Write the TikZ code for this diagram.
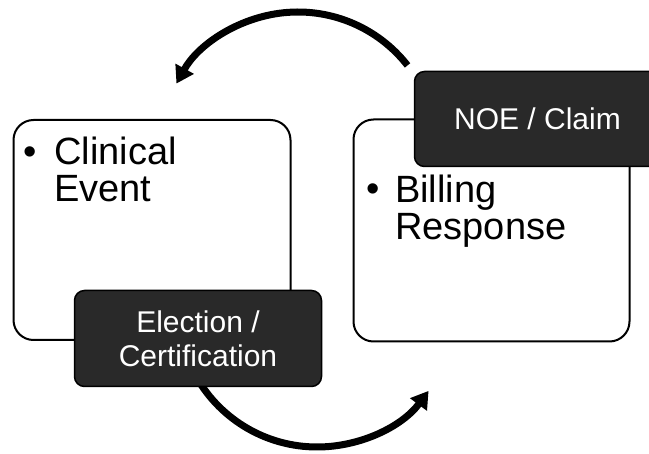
\documentclass[tikz,border=0pt]{standalone}
\usepackage{fontspec}
\setmainfont{Liberation Sans}
\usetikzlibrary{positioning}
\usetikzlibrary{calc}
\usetikzlibrary{arrows.meta}
\definecolor{tagfill}{HTML}{292929}

\begin{document}
\begin{tikzpicture}[
    x=1pt, y=-1pt,
    cardbox/.style={draw=black, line width=2pt, rounded corners=20pt, fill=white},
    tagbox/.style={draw=black, line width=1.5pt, rounded corners=10pt, fill=tagfill,
      text=white, align=center, font=\fontsize{30}{34}\selectfont},
    cardtext/.style={anchor=base west, align=left, inner sep=0pt,
      font=\fontsize{38}{37.5}\selectfont},
    cyclearrow/.style={line width=7pt, -{Triangle[length=17pt,width=20pt]}}]
    \useasboundingbox (0,0) rectangle (649,454);

    % Centri degli archi
    \coordinate (topcentre) at (298,151);
    \coordinate (botcentre) at (317,308);
    \coordinate (noeout) at ($(topcentre)+(-38:139)$);
    \coordinate (electionout) at ($(botcentre)+(150:139)$);

    % Frecce del ciclo
    \draw[cyclearrow] (noeout) arc[start angle=-38, end angle=-151, radius=139];
    \draw[cyclearrow] (electionout) arc[start angle=150, end angle=36.6, radius=139];

    % Riquadri bianchi
    \node[cardbox, minimum width=277pt, minimum height=220pt] (clinical) at (152,230) {};
    \node[cardbox, minimum width=276pt, minimum height=222pt] (billing) at (491.5,230.5) {};

    % Etichette scure
    \node[tagbox, minimum width=247pt, minimum height=96pt] (election) at (198,338.5)
      {Election /\\Certification};
    \node[tagbox, minimum width=246pt, minimum height=95pt] (noe) at (537.5,119)
      {NOE / Claim};

    % Testi puntati (la base del nodo e' l'ultima riga)
    \node[cardtext] (clinicalbullet) at (23,165) {•};
    \node[cardtext] (clinicaltext) at (54,202) {Clinical\\Event};
    \node[cardtext] (billingbullet) at (366,202) {•};
    \node[cardtext] (billingtext) at (395,240) {Billing\\Response};
\end{tikzpicture}
\end{document}
